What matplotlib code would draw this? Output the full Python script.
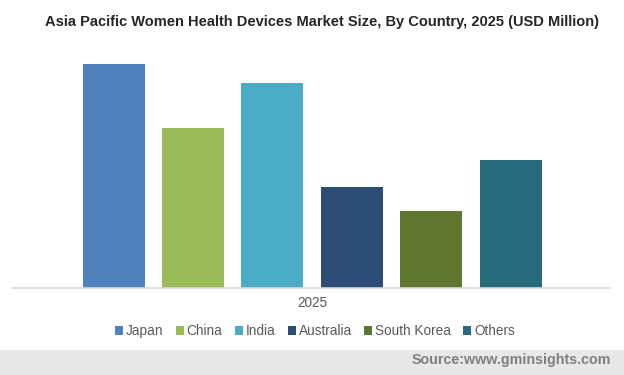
import matplotlib.pyplot as plt
from matplotlib.patches import Rectangle

plt.rcParams['font.family'] = ['Liberation Sans', 'DejaVu Sans']

countries = ["Japan", "China", "India", "Australia", "South Korea", "Others"]
values = [224, 160, 205, 101, 77, 128]
colors = ["#4F81BD", "#9BBB59", "#4BACC6", "#2C4D75", "#5F7530", "#276A7C"]
year = "2025"

fig = plt.figure(figsize=(6.24, 3.75), dpi=100)
ax = fig.add_axes([12 / 624, 1 - 288 / 375, 598 / 624, 233 / 375])

xs = list(range(len(countries)))
step = 79.4
width = 62 / step
for x, v, c, name in zip(xs, values, colors, countries):
    ax.bar(x, v, width=width, color=c, label=name)

# bars centred a touch right of the axes middle
half = 598 / step / 2
ax.set_xlim(2.5 - half - 1 / step, 2.5 + half - 1 / step)
ax.set_ylim(0, 233)
for s in ["top", "right", "left"]:
    ax.spines[s].set_visible(False)
ax.spines["bottom"].set_color("#d9d9d9")
ax.spines["bottom"].set_linewidth(1.2)
ax.set_yticks([])
ax.set_xticks([])

fig.text(322 / 624, 1 - 22 / 375, "Asia Pacific Women Health Devices Market Size, By Country, 2025 (USD Million)",
         ha="center", va="center", fontsize=10.5, fontweight="bold", color="#262626")
fig.text(312 / 624, 1 - 303 / 375, year, ha="center", va="center", fontsize=9.8, color="#595959")

leg = fig.legend(loc="center", bbox_to_anchor=(315 / 624, 1 - 331 / 375), ncol=6, frameon=False,
                 fontsize=9.8, handlelength=0.6, handleheight=0.6, handletextpad=0.2,
                 columnspacing=0.9, labelcolor="#595959")

fig.patches.append(Rectangle((0, 0), 1, 25 / 375, transform=fig.transFigure,
                             facecolor="#e8e8e8", edgecolor="none", zorder=0))
fig.text(611 / 624, 1 - 360 / 375, "Source:www.gminsights.com", ha="right", va="center",
         fontsize=10.3, fontweight="bold", color="#7f7f7f")

fig.savefig("out.png", dpi=100)
